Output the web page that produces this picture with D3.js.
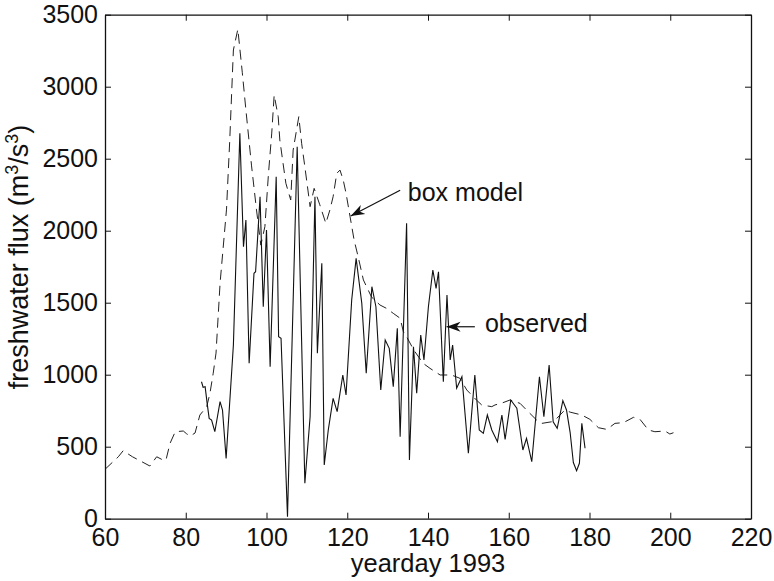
<!DOCTYPE html>
<html>
<head>
<meta charset="utf-8">
<script src="https://cdn.jsdelivr.net/npm/d3@7/dist/d3.min.js"></script>
<style>
  html, body { margin: 0; padding: 0; background: #fff; }
  svg text { font-family: "Liberation Sans", Arial, Helvetica, sans-serif; fill: #111; }
</style>
</head>
<body>
<script>
// box model output (yearday, m^3/s)
const modelDays = [60, 63.3, 64.5, 66.8, 69.1, 71.1, 72.8, 74.4, 75.1, 76.1, 77.4, 79.4, 80.2, 81.1, 82.3, 83.5,
  85.2, 86, 86.8, 87.5, 88.5, 90.1, 90.9, 91.8, 92.9, 94, 94.9, 96.3, 97.5, 98.6, 99.6, 100.5, 101.3, 101.9,
  102.9, 103.3, 104.1, 104.8, 106, 106.6, 108, 108.7, 109.5, 110.8, 111.8, 113.2, 114.7, 115.7, 116.5, 117.4,
  118.2, 119, 119.7, 120.7, 121.7, 122.7, 124, 126, 128.1, 129.7, 131.4, 133.1, 133.9, 134.7, 136.5, 138.8,
  140.5, 143, 145.8, 147.9, 149.6, 152, 153.3, 155.8, 156.6, 158, 160.3, 162.8, 164.4, 166.9, 168.2, 170.6,
  171.9, 173.9, 175.2, 178.1, 180.1, 182.2, 184.3, 186.3, 188.4, 190.9, 192.5, 194.6, 196.2, 198.7, 199.9, 200.8];
const modelFlux = [343, 430, 472, 430, 396, 366, 430, 407, 407, 523, 604, 609, 590, 574, 595, 720,
  778, 872, 1010, 1150, 1635, 2150, 2630, 3255, 3399, 3100, 2838, 2450, 2150, 1900, 2028, 2400, 2678, 2942,
  2792, 2630, 2468, 2329, 2213, 2560, 2792, 2607, 2444, 2167, 2294, 2180, 2051, 2144, 2236, 2398,
  2421, 2352, 2260, 2097, 1935, 1819, 1658, 1540, 1484, 1461, 1426, 1392, 1299, 1264, 1170, 1079,
  1044, 998, 998, 975, 894, 824, 790, 778, 790, 800, 824, 801, 755, 685, 662, 673,
  697, 755, 740, 720, 690, 632, 620, 662, 667, 704, 690, 616, 604, 609, 588, 597];

// observed freshwater flux
const obsDays = [83.9, 84.3, 84.8, 85.3, 85.8, 86.4, 87.2, 88.5, 89.1, 90, 91.8, 93.4, 94.3, 94.9, 95.7, 96.9,
  97.3, 98.4, 99.2, 100, 100.9, 102.4, 103, 103.6, 105.2, 107.6, 109.5, 110.8, 112, 112.6, 113.7, 114.3,
  115.3, 116.5, 117.5, 118.9, 119.7, 121.1, 122.2, 123.6, 124.7, 126.1, 126.6, 127.1, 128.3, 129.4, 130.4,
  131.4, 132.4, 133.1, 134.7, 135.4, 136.4, 137.2, 138.2, 139, 140.1, 141.2, 142, 142.6, 143.8, 144.7,
  145.5, 146.1, 147.1, 148.4, 150, 151.6, 152.7, 153.7, 154.7, 155.8, 157.2, 158.3, 159.1, 160.5, 162,
  163.5, 164.4, 165.7, 167.6, 168.7, 170, 171, 172, 173.4, 174.3, 175.2, 176, 176.8, 177.5, 178.1, 178.9];
const obsFlux = [951, 912, 916, 801, 697, 685, 604, 813, 755, 419, 1206, 2676, 1889, 2074, 1079, 1704,
  1715, 2236, 1472, 2005, 1056, 2375, 1264, 1253, 14, 2583, 246, 708, 2236, 1149, 1774, 373,
  616, 836, 743, 998, 859, 1519, 1808, 1496, 1010, 1611, 1542, 1472, 894, 1241, 1183,
  917, 1322, 569, 2051, 408, 1194, 871, 1276, 1102, 1472, 1727, 1600, 1715, 951, 1553,
  1102, 1206, 906, 986, 454, 998, 616, 593, 720, 616, 535, 720, 551, 824, 767,
  477, 558, 396, 986, 708, 1067, 673, 628, 820, 755, 600, 390, 333, 385, 662, 489];

const xTicks = [60, 80, 100, 120, 140, 160, 180, 200, 220];
const yTicks = [0, 500, 1000, 1500, 2000, 2500, 3000, 3500];

// annotations: [text x, text y, arrow start x, y, arrow tip x, y] in data units
const boxModelNote = [135, 2208, 133.1, 2281, 120.85, 2102];
const observedNote = [154.1, 1299, 151.6, 1333, 144.6, 1333];

const width = 774, height = 581;
const plotLeft = 105, plotRight = 751, plotTop = 14.7, plotBottom = 518.7;

const svg = d3.select('body').append('svg')
  .attr('width', width)
  .attr('height', height);

const x = d3.scaleLinear().domain([60, 220]).range([plotLeft, plotRight]);
const y = d3.scaleLinear().domain([0, 3500]).range([plotBottom, plotTop]);

// arrow head
svg.append('defs').append('marker')
  .attr('id', 'head')
  .attr('viewBox', '-14 -6 16 12')
  .attr('markerUnits', 'userSpaceOnUse')
  .attr('markerWidth', 16)
  .attr('markerHeight', 12)
  .attr('refX', 0)
  .attr('refY', 0)
  .attr('orient', 'auto')
  .append('path')
  .attr('d', 'M0,0 L-14,-5 L-10,0 L-14,5 Z')
  .attr('fill', '#111');

// lines
const line = d3.line().x(d => x(d[0])).y(d => y(d[1]));

svg.append('path')
  .datum(d3.zip(modelDays, modelFlux))
  .attr('d', line)
  .attr('fill', 'none')
  .attr('stroke', '#222')
  .attr('stroke-width', 1)
  .attr('stroke-dasharray', '10,6');

svg.append('path')
  .datum(d3.zip(obsDays, obsFlux))
  .attr('d', line)
  .attr('fill', 'none')
  .attr('stroke', '#111')
  .attr('stroke-width', 1.1);

// axes (matlab style box with inward ticks)
function styleAxis(g) {
  g.selectAll('.domain').attr('stroke', '#111').attr('stroke-width', 1.3);
  g.selectAll('.tick line').attr('stroke', '#111').attr('stroke-width', 1);
  g.selectAll('.tick text').attr('font-size', 25).attr('fill', '#111');
}

const fmt = d3.format('d');

svg.append('g')
  .attr('transform', `translate(0,${plotBottom})`)
  .call(d3.axisBottom(x).tickValues(xTicks).tickFormat(fmt).tickSizeInner(-6).tickSizeOuter(0).tickPadding(10))
  .call(styleAxis);

svg.append('g')
  .attr('transform', `translate(0,${plotTop})`)
  .call(d3.axisTop(x).tickValues(xTicks).tickSizeInner(-6).tickSizeOuter(0).tickFormat(''))
  .call(styleAxis);

svg.append('g')
  .attr('transform', `translate(${plotLeft},0)`)
  .call(d3.axisLeft(y).tickValues(yTicks).tickFormat(fmt).tickSizeInner(-6).tickSizeOuter(0).tickPadding(7))
  .call(styleAxis);

svg.append('g')
  .attr('transform', `translate(${plotRight},0)`)
  .call(d3.axisRight(y).tickValues(yTicks).tickSizeInner(-6).tickSizeOuter(0).tickFormat(''))
  .call(styleAxis);

svg.selectAll('g').attr('font-family', null);

// axis titles
svg.append('text')
  .attr('x', (plotLeft + plotRight) / 2)
  .attr('y', 572)
  .attr('text-anchor', 'middle')
  .attr('font-size', 25.5)
  .text('yearday 1993');

const yl = svg.append('text')
  .attr('transform', 'translate(28,257) rotate(-90)')
  .attr('text-anchor', 'middle')
  .attr('font-size', 27);
yl.append('tspan').text('freshwater flux (m');
yl.append('tspan').attr('baseline-shift', 'super').attr('font-size', 18).text('3');
yl.append('tspan').text('/s');
yl.append('tspan').attr('baseline-shift', 'super').attr('font-size', 18).text('3');
yl.append('tspan').text(')');

// annotations
[[boxModelNote, 'box model'], [observedNote, 'observed']].forEach(([n, label]) => {
  svg.append('text')
    .attr('x', x(n[0]))
    .attr('y', y(n[1]))
    .attr('font-size', 25)
    .text(label);
  svg.append('line')
    .attr('x1', x(n[2])).attr('y1', y(n[3]))
    .attr('x2', x(n[4])).attr('y2', y(n[5]))
    .attr('stroke', '#111')
    .attr('stroke-width', 1.2)
    .attr('marker-end', 'url(#head)');
});
</script>
</body>
</html>
